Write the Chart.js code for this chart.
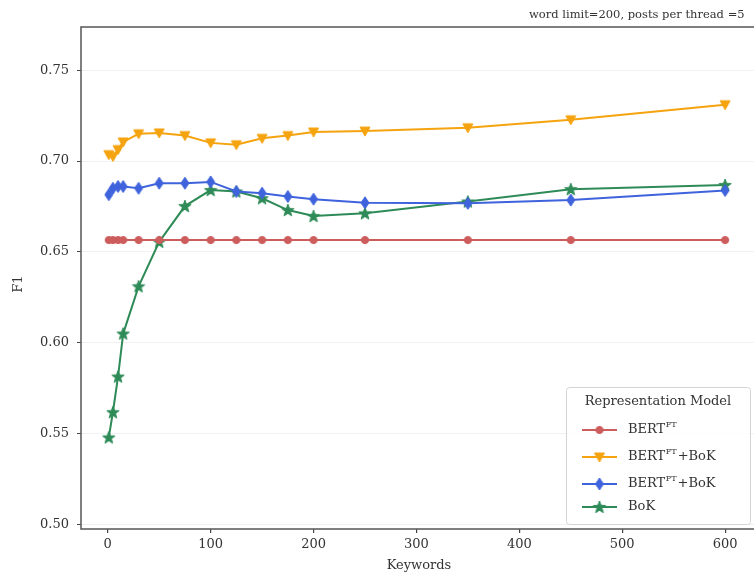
<!DOCTYPE html>
<html>
<head>
<meta charset="utf-8">
<script src="https://cdn.jsdelivr.net/npm/chart.js@4.4.0/dist/chart.umd.min.js"></script>
<style>
  html, body { margin: 0; padding: 0; background: #fff; overflow: hidden; }
  #wrap { position: relative; width: 770px; height: 577px; }
</style>
</head>
<body>
<div id="wrap"><canvas id="chart"></canvas></div>
<script>
// ---- data ----
const keywords = [1, 5, 10, 15, 30, 50, 75, 100, 125, 150, 175, 200, 250, 350, 450, 600];
const bertFT     = [0.6565, 0.6565, 0.6565, 0.6565, 0.6565, 0.6565, 0.6565, 0.6565, 0.6565, 0.6565, 0.6565, 0.6565, 0.6565, 0.6565, 0.6565, 0.6565];
const bertFTBoK  = [0.7035, 0.7025, 0.7063, 0.7105, 0.7150, 0.7155, 0.7140, 0.7100, 0.7090, 0.7125, 0.7140, 0.7160, 0.7165, 0.7183, 0.7227, 0.7310];
const bertPTBoK  = [0.6815, 0.6850, 0.6860, 0.6860, 0.6850, 0.6878, 0.6878, 0.6885, 0.6832, 0.6823, 0.6805, 0.6790, 0.6770, 0.6767, 0.6785, 0.6838];
const bok        = [0.5478, 0.5617, 0.5813, 0.6050, 0.6310, 0.6555, 0.6752, 0.6840, 0.6832, 0.6795, 0.6730, 0.6697, 0.6712, 0.6777, 0.6845, 0.6868];

const xTicks = [0, 100, 200, 300, 400, 500, 600];
const yTicks = [0.50, 0.55, 0.60, 0.65, 0.70, 0.75];

const legendTitle = 'Representation Model';
const legendBase = ['BERT', 'BERT', 'BERT', 'BoK'];
const legendSup  = ['FT', 'FT', 'PT', ''];
const legendTail = ['', '+BoK', '+BoK', ''];

const plotTitle = 'word limit=200, posts per thread =5';
const xTitle = 'Keywords';
const yTitle = 'F1';

const FONT = "'DejaVu Serif', serif";
const COLORS = {
  red: '#cd5c5c',
  orange: '#f5a30f',
  blue: '#3f63dc',
  green: '#2e8b57'
};

// ---- marker shapes (matplotlib-like) ----
function marker(shape, color) {
  const size = 16;
  const c = document.createElement('canvas');
  c.width = size; c.height = size;
  const g = c.getContext('2d');
  const m = size / 2;
  g.fillStyle = color;
  g.strokeStyle = color;
  g.lineWidth = 1;
  g.beginPath();
  if (shape === 'circle') {
    g.arc(m, m, 3.6, 0, Math.PI * 2);
  } else if (shape === 'tridown') {
    g.moveTo(m - 5, m - 4);
    g.lineTo(m + 5, m - 4);
    g.lineTo(m, m + 5);
    g.closePath();
  } else if (shape === 'thindiamond') {
    g.moveTo(m, m - 6);
    g.lineTo(m + 4, m);
    g.lineTo(m, m + 6);
    g.lineTo(m - 4, m);
    g.closePath();
  } else if (shape === 'star') {
    const R = 6.5, r = 2.7;
    for (let i = 0; i < 10; i++) {
      const rad = i % 2 === 0 ? R : r;
      const a = -Math.PI / 2 + i * Math.PI / 5;
      const px = m + rad * Math.cos(a), py = m + 0.5 + rad * Math.sin(a);
      if (i === 0) g.moveTo(px, py); else g.lineTo(px, py);
    }
    g.closePath();
  }
  g.fill();
  g.stroke();
  return c;
}

function series(values, color, shape) {
  return {
    data: keywords.map((k, i) => ({ x: k, y: values[i] })),
    borderColor: color,
    backgroundColor: color,
    borderWidth: 2,
    pointStyle: marker(shape, color),
    pointRadius: 6,
    pointHoverRadius: 6,
    tension: 0
  };
}

// ---- plugins ----
const framePlugin = {
  id: 'frame',
  afterDraw(chart) {
    const { ctx, chartArea: a } = chart;
    ctx.save();
    ctx.strokeStyle = '#555';
    ctx.lineWidth = 1.5;
    ctx.strokeRect(a.left, a.top, a.right - a.left, a.bottom - a.top);
    ctx.restore();
  }
};

const textPlugin = {
  id: 'texts',
  afterDraw(chart) {
    const { ctx } = chart;
    ctx.save();
    ctx.fillStyle = '#333';
    ctx.font = `11.5px ${FONT}`;
    ctx.textBaseline = 'middle';
    ctx.textAlign = 'left';
    ctx.fillText(plotTitle, 529, 15);

    ctx.font = `13px ${FONT}`;
    ctx.textAlign = 'center';
    ctx.fillText(xTitle, 419, 566);

    ctx.translate(19, 284);
    ctx.rotate(-Math.PI / 2);
    ctx.fillText(yTitle, 0, 0);
    ctx.restore();
  }
};

const legendPlugin = {
  id: 'customLegend',
  afterDraw(chart) {
    const { ctx } = chart;
    const box = { x: 566, y: 387, w: 184, h: 137 };
    const rows = [430, 457, 484, 507];
    ctx.save();
    ctx.fillStyle = 'rgba(255,255,255,0.85)';
    ctx.strokeStyle = '#d4d4d4';
    ctx.lineWidth = 1;
    ctx.beginPath();
    ctx.roundRect(box.x + 0.5, box.y + 0.5, box.w, box.h, 3);
    ctx.fill();
    ctx.stroke();

    ctx.fillStyle = '#333';
    ctx.font = `13px ${FONT}`;
    ctx.textAlign = 'center';
    ctx.textBaseline = 'middle';
    ctx.fillText(legendTitle, box.x + box.w / 2, 402);

    chart.data.datasets.forEach((ds, i) => {
      const y = rows[i];
      ctx.strokeStyle = ds.borderColor;
      ctx.lineWidth = 2;
      ctx.beginPath();
      ctx.moveTo(582, y);
      ctx.lineTo(617, y);
      ctx.stroke();
      const img = ds.pointStyle;
      ctx.drawImage(img, 599.5 - img.width / 2, y - img.height / 2);

      ctx.fillStyle = '#333';
      ctx.textAlign = 'left';
      ctx.font = `13px ${FONT}`;
      let x = 628;
      ctx.fillText(legendBase[i], x, y);
      x += ctx.measureText(legendBase[i]).width;
      if (legendSup[i]) {
        ctx.font = `8px ${FONT}`;
        ctx.fillText(legendSup[i], x + 0.5, y - 5);
        x += ctx.measureText(legendSup[i]).width + 1.5;
      }
      if (legendTail[i]) {
        ctx.font = `13px ${FONT}`;
        ctx.fillText(legendTail[i], x, y);
      }
    });
    ctx.restore();
  }
};

new Chart(document.getElementById('chart'), {
  type: 'line',
  data: {
    datasets: [
      series(bertFT, COLORS.red, 'circle'),
      series(bertFTBoK, COLORS.orange, 'tridown'),
      series(bertPTBoK, COLORS.blue, 'thindiamond'),
      series(bok, COLORS.green, 'star')
    ]
  },
  options: {
    responsive: true,
    maintainAspectRatio: false,
    animation: false,
    events: [],
    layout: { padding: { top: 27, right: 13, left: 0, bottom: 0 } },
    plugins: {
      legend: { display: false },
      tooltip: { enabled: false }
    },
    scales: {
      x: {
        type: 'linear',
        min: -26,
        max: 631,
        afterBuildTicks: (s) => { s.ticks = xTicks.map(v => ({ value: v })); },
        afterFit: (s) => { s.height = 48; },
        border: { display: false },
        grid: { drawOnChartArea: false, drawTicks: true, tickLength: 4, tickColor: '#444', lineWidth: 1.2 },
        ticks: {
          color: '#333',
          font: { family: FONT, size: 13 },
          padding: 4,
          maxRotation: 0,
          callback: (v) => String(v)
        }
      },
      y: {
        min: 0.4974,
        max: 0.7738,
        afterBuildTicks: (s) => { s.ticks = yTicks.map(v => ({ value: v })); },
        afterFit: (s) => { s.width = 81; },
        border: { display: false },
        grid: { color: '#f1f1f1', lineWidth: 1, drawTicks: true, tickLength: 4, tickColor: '#444' },
        ticks: {
          color: '#333',
          font: { family: FONT, size: 13 },
          padding: 8,
          callback: (v) => v.toFixed(2)
        }
      }
    }
  },
  plugins: [framePlugin, textPlugin, legendPlugin]
});
</script>
</body>
</html>
